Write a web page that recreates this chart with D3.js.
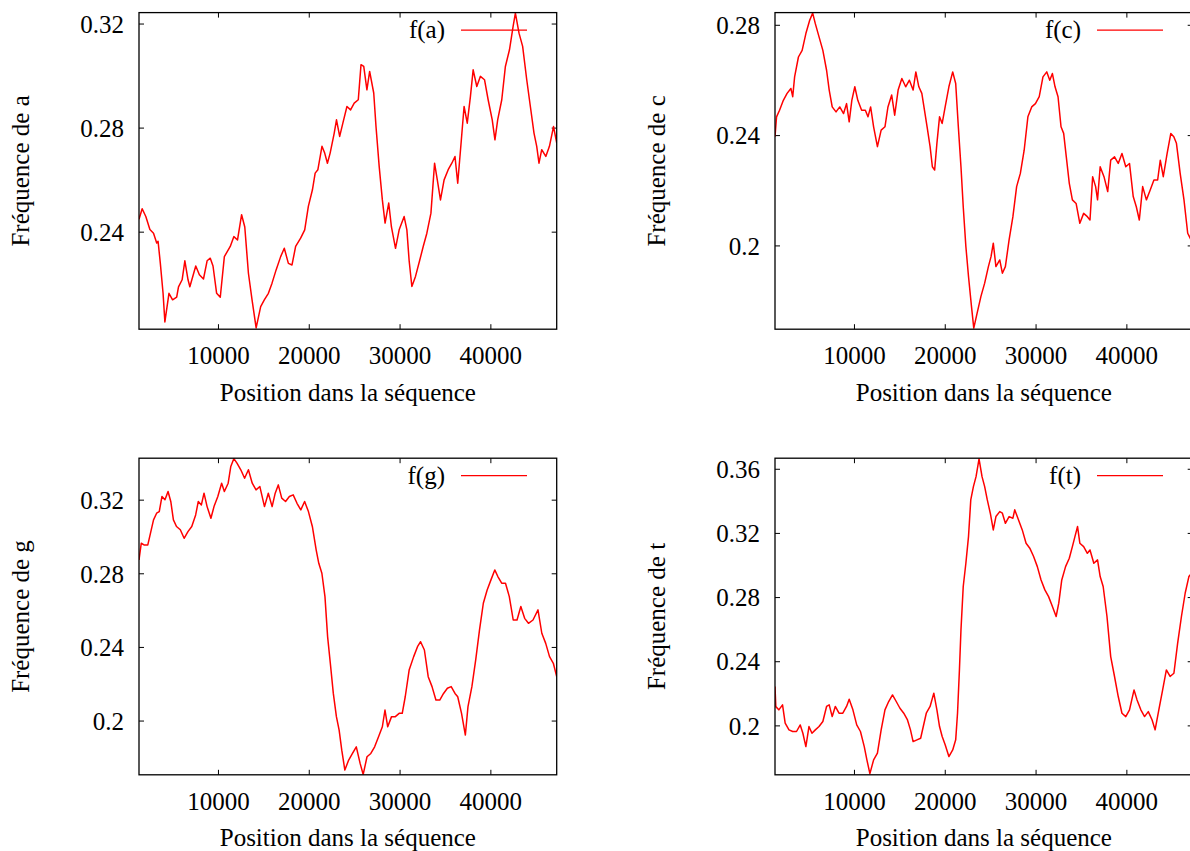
<!DOCTYPE html>
<html>
<head>
<meta charset="utf-8">
<script src="https://cdn.jsdelivr.net/npm/d3@7"></script>
<style>
  body { margin: 0; background: #fff; }
  svg { display: block; font-family: "Liberation Serif", "Times New Roman", serif; }
</style>
</head>
<body>
<div id="chart"></div>
<script>
// [position, frequency]
const freqA = [[1250,0.245],[1600,0.249],[2000,0.246],[2450,0.241],[2850,0.2396],[3200,0.2358],[3350,0.2365],[3600,0.228],[3900,0.2165],[4100,0.2055],[4550,0.2165],[4950,0.214],[5400,0.215],[5600,0.219],[6000,0.2217],[6300,0.229],[6650,0.2217],[6850,0.219],[7500,0.227],[7900,0.2236],[8350,0.222],[8750,0.229],[9100,0.23],[9400,0.227],[9800,0.2165],[10200,0.215],[10650,0.2306],[11300,0.2345],[11700,0.2383],[12100,0.237],[12550,0.2467],[12900,0.242],[13300,0.2242],[13700,0.214],[14150,0.2032],[14650,0.2114],[15050,0.214],[15500,0.2165],[15900,0.2204],[16350,0.2255],[16850,0.2306],[17250,0.2338],[17700,0.228],[18100,0.2274],[18500,0.2345],[19050,0.2377],[19500,0.2409],[19900,0.2499],[20350,0.2563],[20650,0.2627],[20950,0.264],[21400,0.273],[21700,0.2704],[22000,0.2665],[22300,0.2704],[22750,0.2781],[23000,0.2832],[23350,0.2768],[23700,0.2819],[24150,0.2883],[24550,0.287],[24950,0.2896],[25400,0.2909],[25700,0.3044],[26000,0.3037],[26350,0.2947],[26650,0.3018],[27100,0.2935],[27350,0.2806],[27700,0.2653],[28050,0.2524],[28350,0.2435],[28750,0.2512],[29050,0.242],[29500,0.2338],[29900,0.2409],[30450,0.246],[30750,0.2409],[31000,0.229],[31300,0.2191],[31700,0.223],[32150,0.229],[32550,0.2345],[32950,0.2396],[33400,0.2473],[33800,0.2665],[34100,0.2601],[34450,0.2524],[34850,0.2601],[35300,0.264],[35700,0.2665],[36050,0.2691],[36350,0.2588],[36750,0.2755],[37050,0.2883],[37400,0.2819],[37750,0.2922],[38050,0.3024],[38450,0.296],[38850,0.2999],[39300,0.2986],[39700,0.2909],[40150,0.2832],[40450,0.2755],[40750,0.2832],[41200,0.2909],[41600,0.3037],[42050,0.3101],[42450,0.3191],[42700,0.3242],[43100,0.3165],[43500,0.3114],[43950,0.2986],[44350,0.2883],[44750,0.2781],[45050,0.273],[45300,0.2665],[45600,0.2717],[46050,0.2691],[46450,0.273],[46900,0.2806],[47250,0.2743]];

const freqC = [[1250,0.2396],[1420,0.2468],[1750,0.2492],[2170,0.2528],[2580,0.2553],[3000,0.2571],[3200,0.2541],[3410,0.2613],[3830,0.2685],[4240,0.2709],[4650,0.277],[5070,0.2818],[5400,0.2844],[5690,0.2806],[6100,0.2758],[6520,0.2709],[6930,0.2637],[7220,0.2565],[7550,0.2504],[7970,0.2486],[8380,0.2504],[8800,0.248],[9130,0.2516],[9420,0.245],[9710,0.2528],[10040,0.2577],[10370,0.2528],[10790,0.2492],[11200,0.2492],[11490,0.2468],[11780,0.2504],[12110,0.2432],[12530,0.236],[12940,0.242],[13360,0.2432],[13690,0.2504],[14100,0.2547],[14430,0.2474],[14810,0.2565],[15220,0.2607],[15640,0.2577],[16050,0.2601],[16460,0.2565],[16760,0.2631],[17090,0.2577],[17420,0.2553],[17710,0.2492],[18000,0.2432],[18330,0.236],[18580,0.2287],[18830,0.2275],[19080,0.2372],[19370,0.2468],[19660,0.2444],[19990,0.2504],[20400,0.2577],[20820,0.2631],[21150,0.2589],[21440,0.2432],[21730,0.2287],[21980,0.2142],[22270,0.1998],[22560,0.1889],[22890,0.178],[23140,0.1702],[23510,0.1756],[23930,0.1817],[24340,0.1865],[24750,0.1925],[25040,0.1961],[25290,0.201],[25580,0.1925],[26000,0.1949],[26290,0.1901],[26620,0.1925],[27030,0.2022],[27450,0.2106],[27860,0.2215],[28270,0.2263],[28690,0.2347],[29100,0.2468],[29520,0.2504],[29930,0.2516],[30350,0.2541],[30760,0.2613],[31180,0.2631],[31510,0.2601],[31800,0.2625],[32090,0.2577],[32420,0.2541],[32750,0.2432],[33040,0.2408],[33330,0.2323],[33660,0.2227],[34000,0.2167],[34410,0.2154],[34820,0.2082],[35240,0.2118],[35650,0.2106],[35940,0.2094],[36230,0.2251],[36560,0.2215],[36770,0.2167],[37060,0.2287],[37480,0.2251],[37890,0.2197],[38220,0.2311],[38640,0.2323],[39050,0.2299],[39460,0.2335],[39880,0.2287],[40290,0.2299],[40700,0.2179],[41040,0.2142],[41370,0.2094],[41740,0.2215],[42150,0.2167],[42570,0.2203],[42980,0.2239],[43390,0.2239],[43680,0.2311],[44010,0.2251],[44430,0.2335],[44840,0.2408],[45170,0.2396],[45460,0.2372],[45870,0.2263],[46290,0.2167],[46700,0.2046],[47250,0.201]];

const freqG = [[1250,0.2875],[1500,0.2966],[1800,0.2957],[2220,0.2957],[2510,0.302],[2850,0.3093],[3190,0.3129],[3480,0.3138],[3780,0.322],[4110,0.3202],[4450,0.3247],[4750,0.3193],[5040,0.3093],[5380,0.3057],[5800,0.3039],[6220,0.2993],[6640,0.3029],[7060,0.3057],[7490,0.312],[7780,0.3193],[8120,0.3174],[8410,0.3238],[8750,0.3165],[9170,0.3102],[9510,0.3165],[9930,0.322],[10350,0.3292],[10650,0.3247],[11070,0.3292],[11360,0.3383],[11700,0.3426],[12040,0.3401],[12460,0.3365],[12880,0.3319],[13300,0.3365],[13720,0.3292],[14140,0.3256],[14560,0.3274],[15070,0.3165],[15490,0.3238],[15910,0.3165],[16250,0.3238],[16590,0.3283],[16970,0.3211],[17390,0.3193],[17810,0.322],[18230,0.3229],[18650,0.3183],[19070,0.3147],[19490,0.3193],[19910,0.3138],[20340,0.3057],[20760,0.293],[21050,0.2857],[21390,0.2803],[21730,0.2676],[22020,0.2459],[22320,0.2314],[22650,0.215],[22990,0.2024],[23290,0.1951],[23580,0.1842],[23920,0.1734],[24340,0.1788],[24760,0.1824],[25180,0.186],[25600,0.177],[25940,0.171],[26360,0.1806],[26780,0.1824],[27200,0.186],[27630,0.1915],[28050,0.1969],[28340,0.206],[28640,0.1969],[29060,0.2024],[29480,0.2024],[29900,0.2042],[30240,0.2042],[30570,0.2132],[31000,0.2277],[31500,0.235],[31920,0.2404],[32260,0.2431],[32680,0.2386],[33100,0.2241],[33520,0.2187],[33950,0.2114],[34370,0.2114],[34790,0.215],[35210,0.2178],[35630,0.2187],[36050,0.215],[36350,0.2132],[36770,0.2042],[37190,0.1924],[37480,0.2078],[37910,0.2187],[38330,0.2332],[38750,0.2495],[39170,0.264],[39590,0.2712],[40010,0.2767],[40430,0.2821],[40770,0.2785],[41190,0.2749],[41610,0.2749],[42030,0.2676],[42460,0.2549],[42880,0.2549],[43300,0.2622],[43720,0.2558],[44140,0.2531],[44640,0.2549],[45190,0.2604],[45610,0.2477],[46040,0.2422],[46460,0.235],[46880,0.2314],[47250,0.2241]];

const freqT = [[1250,0.2245],[1340,0.212],[1670,0.21],[2080,0.2131],[2370,0.2017],[2790,0.1975],[3200,0.1965],[3620,0.1965],[4030,0.2006],[4320,0.1954],[4650,0.1871],[4990,0.1996],[5320,0.1954],[5690,0.1975],[6100,0.1996],[6520,0.2027],[6930,0.2121],[7220,0.2131],[7550,0.2058],[7890,0.2121],[8300,0.2079],[8720,0.2079],[9130,0.2121],[9420,0.2166],[9830,0.21],[10250,0.2006],[10660,0.1965],[11080,0.1871],[11370,0.1788],[11700,0.1702],[12110,0.1788],[12530,0.183],[12940,0.1975],[13360,0.21],[13770,0.2152],[14190,0.2193],[14600,0.2152],[15010,0.211],[15430,0.2079],[15840,0.2037],[16170,0.1975],[16460,0.1902],[16880,0.1913],[17290,0.1923],[17580,0.1996],[17910,0.2079],[18330,0.2121],[18740,0.2204],[19080,0.21],[19370,0.1996],[19660,0.1934],[19990,0.1882],[20400,0.1809],[20820,0.185],[21150,0.1913],[21350,0.2079],[21560,0.2349],[21730,0.2598],[21980,0.2869],[22270,0.3014],[22560,0.318],[22810,0.3409],[23100,0.3492],[23390,0.3554],[23720,0.3665],[24050,0.3554],[24340,0.3492],[24630,0.3409],[24960,0.3326],[25290,0.3222],[25580,0.3305],[26000,0.3336],[26290,0.3326],[26620,0.3263],[27030,0.3305],[27450,0.3295],[27650,0.3347],[28070,0.3284],[28480,0.3222],[28900,0.3139],[29310,0.3108],[29730,0.3056],[30140,0.2993],[30550,0.291],[30970,0.2848],[31380,0.2806],[31800,0.2744],[32210,0.2682],[32500,0.2765],[32830,0.291],[33250,0.2993],[33660,0.3045],[34000,0.3118],[34280,0.318],[34570,0.3243],[34820,0.3139],[35240,0.3118],[35650,0.3076],[35940,0.3097],[36360,0.3014],[36770,0.3035],[37060,0.2931],[37390,0.2869],[37810,0.2682],[38220,0.2432],[38640,0.2308],[39050,0.2183],[39460,0.2079],[39880,0.2058],[40290,0.21],[40790,0.2224],[41120,0.2162],[41540,0.21],[41950,0.2058],[42360,0.2089],[42780,0.2037],[43110,0.1975],[43520,0.21],[43940,0.2224],[44350,0.2349],[44760,0.2308],[45180,0.2328],[45590,0.2515],[46010,0.2682],[46420,0.2827],[46830,0.2931],[47250,0.296]];

const nucleotides = ["a", "c", "g", "t"];
const yDomains = [[0.2027, 0.3244], [0.1698, 0.2846], [0.1708, 0.3428], [0.1695, 0.3669]];
const xDomain = [1250, 47250];
const xTicks = [10000, 20000, 30000, 40000];
const yTicks = [0.2, 0.24, 0.28, 0.32, 0.36];

let width = 1190;
let height = 851;
let fontSize = 25;

let svg = d3.select("#chart").append("svg")
  .attr("width", width)
  .attr("height", height);

svg.append("rect")
  .attr("width", width)
  .attr("height", height)
  .attr("fill", "#fff");

const makePanel = (i, data, left, top) => {
  let w = 417.7;
  let h = 316.6;
  let tickLen = 5;
  let name = nucleotides[i];

  let x = d3.scaleLinear().domain(xDomain).range([left, left + w]);
  let y = d3.scaleLinear().domain(yDomains[i]).range([top + h, top]);
  let ticksY = yTicks.filter(function (t) { return t >= yDomains[i][0] && t <= yDomains[i][1]; });

  let g = svg.append("g").attr("class", "panel");

  g.append("clipPath")
    .attr("id", "clip-" + name)
    .append("rect")
    .attr("x", left)
    .attr("y", top)
    .attr("width", w)
    .attr("height", h);

  // ticks, mirrored on all four sides and pointing inwards
  g.selectAll(".xtick-b")
    .data(xTicks)
    .enter()
    .append("line")
    .attr("x1", function (d) { return x(d); })
    .attr("x2", function (d) { return x(d); })
    .attr("y1", top + h)
    .attr("y2", top + h - tickLen)
    .attr("stroke", "#000");

  g.selectAll(".xtick-t")
    .data(xTicks)
    .enter()
    .append("line")
    .attr("x1", function (d) { return x(d); })
    .attr("x2", function (d) { return x(d); })
    .attr("y1", top)
    .attr("y2", top + tickLen)
    .attr("stroke", "#000");

  g.selectAll(".ytick-l")
    .data(ticksY)
    .enter()
    .append("line")
    .attr("x1", left)
    .attr("x2", left + tickLen)
    .attr("y1", function (d) { return y(d); })
    .attr("y2", function (d) { return y(d); })
    .attr("stroke", "#000");

  g.selectAll(".ytick-r")
    .data(ticksY)
    .enter()
    .append("line")
    .attr("x1", left + w)
    .attr("x2", left + w - tickLen)
    .attr("y1", function (d) { return y(d); })
    .attr("y2", function (d) { return y(d); })
    .attr("stroke", "#000");

  g.selectAll(".xlabel")
    .data(xTicks)
    .enter()
    .append("text")
    .attr("x", function (d) { return x(d); })
    .attr("y", top + h + 35)
    .attr("text-anchor", "middle")
    .attr("font-size", fontSize)
    .text(function (d) { return d; });

  g.selectAll(".ylabel")
    .data(ticksY)
    .enter()
    .append("text")
    .attr("x", left - 15)
    .attr("y", function (d) { return y(d); })
    .attr("dy", "0.35em")
    .attr("text-anchor", "end")
    .attr("font-size", fontSize)
    .text(function (d) { return String(d); });

  let line = d3.line()
    .x(function (d) { return x(d[0]); })
    .y(function (d) { return y(d[1]); });

  g.append("path")
    .datum(data)
    .attr("clip-path", "url(#clip-" + name + ")")
    .attr("d", line)
    .attr("fill", "none")
    .attr("stroke", "#ff0000")
    .attr("stroke-width", 1.5)
    .attr("stroke-linejoin", "round");

  // legend
  g.append("text")
    .attr("x", left + w - 111.7)
    .attr("y", top + 17.5)
    .attr("dy", "0.32em")
    .attr("text-anchor", "end")
    .attr("font-size", fontSize)
    .text("f(" + name + ")");

  g.append("line")
    .attr("x1", left + w - 95.7)
    .attr("x2", left + w - 29.7)
    .attr("y1", top + 17.5)
    .attr("y2", top + 17.5)
    .attr("stroke", "#ff0000")
    .attr("stroke-width", 1.3);

  g.append("rect")
    .attr("x", left)
    .attr("y", top)
    .attr("width", w)
    .attr("height", h)
    .attr("fill", "none")
    .attr("stroke", "#000")
    .attr("stroke-width", 1.3);

  g.append("text")
    .attr("x", left + w / 2)
    .attr("y", top + h + 71.4)
    .attr("text-anchor", "middle")
    .attr("font-size", fontSize)
    .text("Position dans la séquence");

  g.append("text")
    .attr("transform", `translate(${left - 110}, ${top + h / 2}) rotate(-90)`)
    .attr("text-anchor", "middle")
    .attr("font-size", fontSize)
    .text("Fréquence de " + name);
};

makePanel(0, freqA, 139, 12.6);
makePanel(1, freqC, 775, 12.6);
makePanel(2, freqG, 139, 458.2);
makePanel(3, freqT, 775, 458.2);
</script>
</body>
</html>
